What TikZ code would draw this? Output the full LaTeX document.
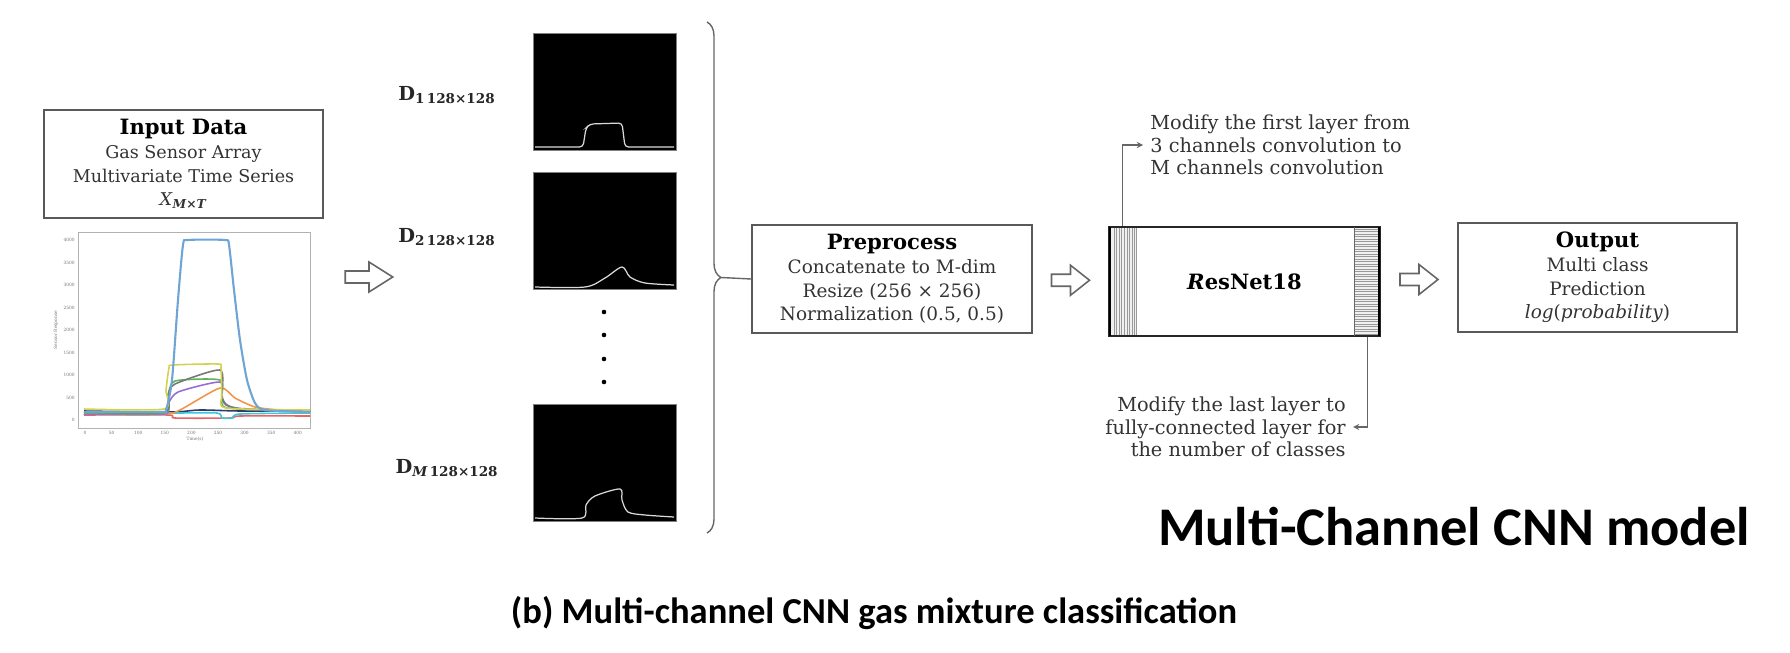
\documentclass[tikz,border=0pt]{standalone}
\usepackage{fontspec}
\setmainfont{DejaVu Serif}
\newfontfamily\headfont{Carlito}
\usetikzlibrary{arrows}
\usetikzlibrary{calc}
\usetikzlibrary{decorations.pathreplacing}

\definecolor{cblue}{RGB}{110,165,212}
\definecolor{cyellow}{RGB}{210,210,80}
\definecolor{cgray}{RGB}{120,120,120}
\definecolor{cgreen}{RGB}{90,180,90}
\definecolor{cpurple}{RGB}{150,110,210}
\definecolor{corange}{RGB}{240,150,70}
\definecolor{cred}{RGB}{230,100,100}
\definecolor{ccyan}{RGB}{60,200,220}
\definecolor{cnavy}{RGB}{40,60,110}

\newcommand{\boxtitle}[1]{{\fontsize{12}{13.5}\selectfont\bfseries\color{black}#1}}

\tikzset{
  box/.style={draw=black!65, line width=1pt, align=center, text=black!80, inner sep=0pt,
    font=\fontsize{10.5}{13.5}\selectfont},
  img/.style={fill=black, draw=black!50, minimum width=2.86cm, minimum height=2.34cm, inner sep=0pt},
  dlabel/.style={font=\fontsize{11}{12}\selectfont, text=black!85},
  note/.style={font=\fontsize{11}{12.8}\selectfont, text=black!80, inner ysep=0pt, inner xsep=4pt},
  conn/.style={black!60, line width=0.6pt, -stealth},
  tick/.style={font=\fontsize{2.5}{3}\selectfont, text=black!55, inner sep=0.5pt},
  trace/.style={white!85!black, line width=0.7pt},
  curve/.style={line width=0.9pt},
  fatarrow/.pic={\draw[black!60, line width=0.9pt, fill=white]
    (-19,-6) -- (0,-6) -- (0,-15) -- (19,0) -- (0,15) -- (0,6) -- (-19,6) -- cycle;}
}

\begin{document}
\begin{tikzpicture}[x=0.02cm, y=-0.02cm]
  \useasboundingbox (0,0) rectangle (1790,652);

  \node[box, line width=1.4pt, minimum width=5.58cm, minimum height=2.16cm,
    font=\fontsize{10}{13.5}\selectfont] (input) at (183.5,164)
    {\boxtitle{Input Data}\\Gas Sensor Array\\Multivariate Time Series\\\textit{X}\textsubscript{\textbf{\textit{M×T}}}};

  \draw[black!30, line width=0.4pt] (78,232) rectangle (310,428);
  \foreach \v [count=\i from 0] in {0,500,...,4000}
    \node[tick, anchor=east] at (76,{420-\i*22.5}) {\v};
  \foreach \v [count=\i from 0] in {0,50,...,400}
    \node[tick, anchor=north] at ({85+\i*26.6},430) {\v};
  \node[tick, rotate=90] at (56,330) {Sensor Response};
  \node[tick] at (195,439) {Time(s)};

  \draw[curve, cnavy] plot[smooth] coordinates {(84,411) (170,412) (200,410) (240,411) (310,411)};
  \draw[curve, cred] plot[smooth, tension=0.4] coordinates {(84,415) (168,415) (175,418) (230,418) (240,416) (310,416)};
  \draw[curve, ccyan] plot[smooth, tension=0.4] coordinates {(84,412) (170,413) (217,413) (222,418) (232,418) (240,414) (310,413)};
  \draw[curve, corange] plot[smooth, tension=0.4] coordinates {(84,414) (164,414) (180,410) (220,388) (235,398) (255,407) (280,410) (310,410)};
  \draw[curve, cpurple] plot[smooth, tension=0.4] coordinates {(84,414) (164,414) (168,404) (178,392) (220,382) (222,398) (235,408) (310,411)};
  \draw[curve, cgreen] plot[smooth, tension=0.4] coordinates {(84,413) (164,413) (168,396) (175,381) (220,380) (222,398) (228,408) (310,412)};
  \draw[curve, cgray] plot[smooth, tension=0.4] coordinates {(84,412) (164,412) (168,395) (175,384) (220,370) (222,395) (226,405) (250,410) (310,411)};
  \draw[curve, cyellow] plot[smooth, tension=0.4] coordinates {(84,409) (164,409) (166,390) (169,368) (173,365) (218,364) (221,368) (222,395) (226,408) (310,410)};
  \draw[curve, cblue, line width=1.2pt] plot[smooth, tension=0.4] coordinates {(84,412) (160,412) (166,410) (172,380) (178,300) (183,245) (188,240) (225,240) (229,245) (234,290) (240,340) (247,380) (255,403) (265,410) (310,412)};

  \pic[xscale=1.25] at (369,277) {fatarrow};

  \node[img] (d1) at (604.5,91.5) {};
  \node[img] (d2) at (604.5,231) {};
  \node[img] (dm) at (604.5,463) {};
  \draw[trace, rounded corners=2pt] (535,147) -- (583,147) -- (586,128) -- (590,124) -- (622,123) -- (625,147) -- (674,147);
  \draw[trace] plot[smooth] coordinates {(535,287) (585,287) (605,278) (622,267) (630,277) (645,283) (674,285)};
  \draw[trace] plot[smooth, tension=0.5] coordinates {(535,518) (582,518) (586,505) (595,496) (620,489) (622,500) (628,512) (645,515) (674,517)};
  \foreach \y in {312,335,359,382}
    \fill (604,\y) circle (1.3pt);

  \node[dlabel] (l1) at (447,95) {\textbf{D}\textsubscript{\textbf{1\,128×128}}};
  \node[dlabel] (l2) at (447,237) {\textbf{D}\textsubscript{\textbf{2\,128×128}}};
  \node[dlabel] (lm) at (447,468) {\textbf{D}\textsubscript{\textbf{\textit{M}\,128×128}}};

  \node[box, minimum width=5.6cm, minimum height=2.16cm] (pre) at (892,279)
    {\boxtitle{Preprocess}\\Concatenate to M-dim\\Resize (256 × 256)\\Normalization (0.5, 0.5)};
  \draw[decorate, decoration={brace, amplitude=0.28cm}, black!60, line width=0.8pt] (707,22) -- (707,533);
  \coordinate (tip) at (721,277.5);
  \draw[black!60, line width=0.8pt] (tip) -- (pre.west);

  \node[box, draw=black!85, minimum width=5.42cm, minimum height=2.18cm, text=black,
    font=\fontsize{12}{14}\selectfont\bfseries] (res) at (1244.5,281.5) {\textit{R}esNet18};
  \fill[black!6] (1111,228) rectangle (1137,335);
  \foreach \x in {1114,1116,1119,1121,1124,1127,1129,1132,1134,1136}
    \draw[black!40, line width=0.3pt] (\x,228) -- (\x,335);
  \draw[line width=1.5pt] (1110,227) -- (1110,336);
  \fill[black!6] (1354,228) rectangle (1378,335);
  \foreach \y in {229,231.5,...,334}
    \draw[black!40, line width=0.3pt] (1354,\y) -- (1378,\y);
  \draw[black!60, line width=0.4pt] (1354,227) -- (1354,336);
  \draw[line width=1.5pt] (1379,227) -- (1379,336);

  \node[note, anchor=west, align=left] (n1) at (1143,145)
    {Modify the first layer from\\3 channels convolution to\\M channels convolution};
  \node[note, anchor=east, align=right] (n2) at (1353,427)
    {Modify the last layer to\\fully-connected layer for\\the number of classes};
  \draw[conn] ($(res.north west)+(14,0)$) |- (n1.west);
  \draw[conn] ($(res.south east)+(-13,0)$) |- (n2.east);

  \node[box, minimum width=5.58cm, minimum height=2.18cm] (out) at (1597.5,277.5)
    {\boxtitle{Output}\\Multi class\\Prediction\\\textit{log}(\textit{probability})};

  \pic at ($(pre.east)!0.5!(res.west)$) {fatarrow};
  \pic at ($(res.east)!0.5!(out.west)$) {fatarrow};

  \node[font=\headfont\bfseries\fontsize{31}{34}\selectfont, anchor=east] (model) at (1756,527) {Multi-Channel CNN model};
  \node[font=\headfont\bfseries\fontsize{20.8}{23}\selectfont] (caption) at (874,613) {(b) Multi-channel CNN gas mixture classification};
\end{tikzpicture}
\end{document}
